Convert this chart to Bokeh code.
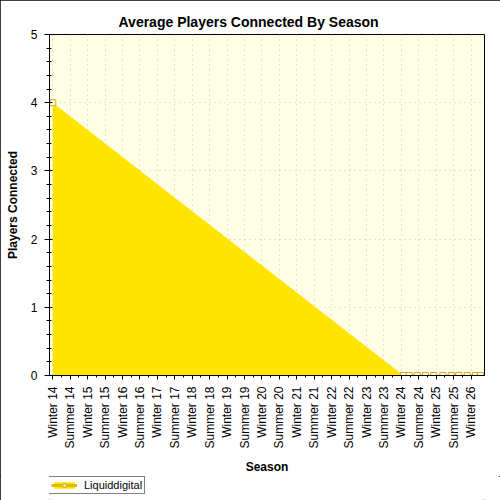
import math

from bokeh.plotting import figure
from bokeh.layouts import column
from bokeh.models import (
    Range1d, FixedTicker, SingleIntervalTicker, Legend, LegendItem,
)
from bokeh.embed import file_html
from bokeh.resources import INLINE

# ── Data ─────────────────────────────────────────────────────────
SEASONS = [
    "Winter 14", "Summer 14", "Winter 15", "Summer 15", "Winter 16",
    "Summer 16", "Winter 17", "Summer 17", "Winter 18", "Summer 18",
    "Winter 19", "Summer 19", "Winter 20", "Summer 20", "Winter 21",
    "Summer 21", "Winter 22", "Summer 22", "Winter 23", "Summer 23",
    "Winter 24", "Summer 24", "Winter 25", "Summer 25", "Winter 26",
]
SEASON_POS = list(range(len(SEASONS)))
SEASON_MID = [i + 0.5 for i in SEASON_POS[:-1]]

# sample position (in seasons from Winter 14) and players connected
SAMPLE_X = [0.0, 20.12, 20.45, 20.91, 21.38, 21.86, 22.38, 22.86,
            23.29, 23.78, 24.25, 24.54]
PLAYERS = [4, 0, 0, 0, 0, 0, 0, 0, 0, 0, 0, 0]

SERIES = "Liquiddigital"

# ── Style ────────────────────────────────────────────────────────
FONT = "Liberation Sans"
PLOT_BG = "#FFFFE6"
AREA = "#FFE400"
MARK = "#DAA520"
GRID = "#C4C4C4"
LEG_LINE = "#E8B800"

p = figure(
    width=500, height=476,
    x_range=Range1d(-0.19, 24.77), y_range=Range1d(0, 5),
    title="Average Players Connected By Season",
    x_axis_label="Season", y_axis_label="Players Connected",
    output_backend="svg", toolbar_location=None,
    min_border_left=49, min_border_right=16,
    min_border_top=34, min_border_bottom=100,
)

p.varea(x=SAMPLE_X, y1=0, y2=PLAYERS, fill_color=AREA)
p.scatter(SAMPLE_X, PLAYERS, marker="square", size=6,
          fill_color="#FFFFE8", line_color=MARK, line_width=1)

# axes
p.xaxis.ticker = FixedTicker(ticks=SEASON_POS, minor_ticks=SEASON_MID)
p.yaxis.ticker = SingleIntervalTicker(interval=1, num_minor_ticks=5)
p.xaxis.major_label_overrides = {i: s for i, s in enumerate(SEASONS)}
p.xaxis.major_label_orientation = math.pi / 2

for ax in (p.xaxis, p.yaxis):
    ax.axis_line_color = "black"
    ax.major_tick_line_color = "black"
    ax.minor_tick_line_color = "black"
    ax.major_label_text_font = FONT
    ax.major_label_text_font_size = "12px"
    ax.major_label_text_color = "black"
    ax.axis_label_text_font = FONT
    ax.axis_label_text_font_size = "12px"
    ax.axis_label_text_font_style = "bold"
    ax.axis_label_text_color = "black"

p.yaxis.major_tick_out = 5
p.yaxis.major_tick_in = 3
p.yaxis.minor_tick_out = 3
p.yaxis.minor_tick_in = 2
p.yaxis.major_label_standoff = 7
p.yaxis.axis_label_standoff = 8

p.xaxis.major_tick_out = 4
p.xaxis.major_tick_in = 0
p.xaxis.minor_tick_out = 2
p.xaxis.minor_tick_in = 0
p.xaxis.major_label_standoff = 7
p.xaxis.axis_label_standoff = 8

# grid
for g in (p.xgrid, p.ygrid):
    g.grid_line_color = GRID
    g.grid_line_dash = "1 4"
    g.grid_line_width = 1

# frame
p.background_fill_color = PLOT_BG
p.border_fill_color = "white"
p.outline_line_color = "black"
p.outline_line_width = 1

# title
p.title.text_font = FONT
p.title.text_font_size = "14px"
p.title.text_font_style = "bold"
p.title.text_color = "black"
p.title.align = "left"
p.title.offset = 69
p.title.standoff = 10

# ── Legend strip under the chart ─────────────────────────────────
# the legend glyphs reuse the series, kept outside this strip's view
leg = figure(
    width=500, height=24, x_range=Range1d(100, 101), y_range=Range1d(100, 101),
    output_backend="svg", toolbar_location=None,
    x_axis_location=None, y_axis_location=None,
    min_border_left=0, min_border_right=0, min_border_top=0,
    min_border_bottom=0,
)
leg.grid.visible = False
leg.outline_line_color = None
leg.background_fill_color = "white"
leg.border_fill_color = "white"

l_area = leg.varea(x=SAMPLE_X, y1=0, y2=PLAYERS, fill_color=AREA)
l_line = leg.line(x=SAMPLE_X, y=PLAYERS, line_color=LEG_LINE, line_width=3)
l_mark = leg.scatter(x=SAMPLE_X, y=PLAYERS, marker="square", size=6,
                     fill_color="white", line_color=MARK, line_width=1)

# the column lines this strip's frame up with the chart frame (x = 49)
legend = Legend(
    items=[LegendItem(label=SERIES, renderers=[l_area, l_line, l_mark])],
    location=(-1, 6),
    border_line_color="black", border_line_width=1,
    background_fill_color="white", background_fill_alpha=1,
    padding=2, margin=0, spacing=0,
    glyph_width=26, glyph_height=8, label_height=10,
    label_standoff=7,
    label_text_font=FONT, label_text_font_size="11px",
    label_text_color="black",
)
leg.add_layout(legend)

page = column(p, leg, spacing=0,
              styles={"outline": "1px solid black", "outline-offset": "-1px"})

open("out.html", "w").write(file_html(page, INLINE))
